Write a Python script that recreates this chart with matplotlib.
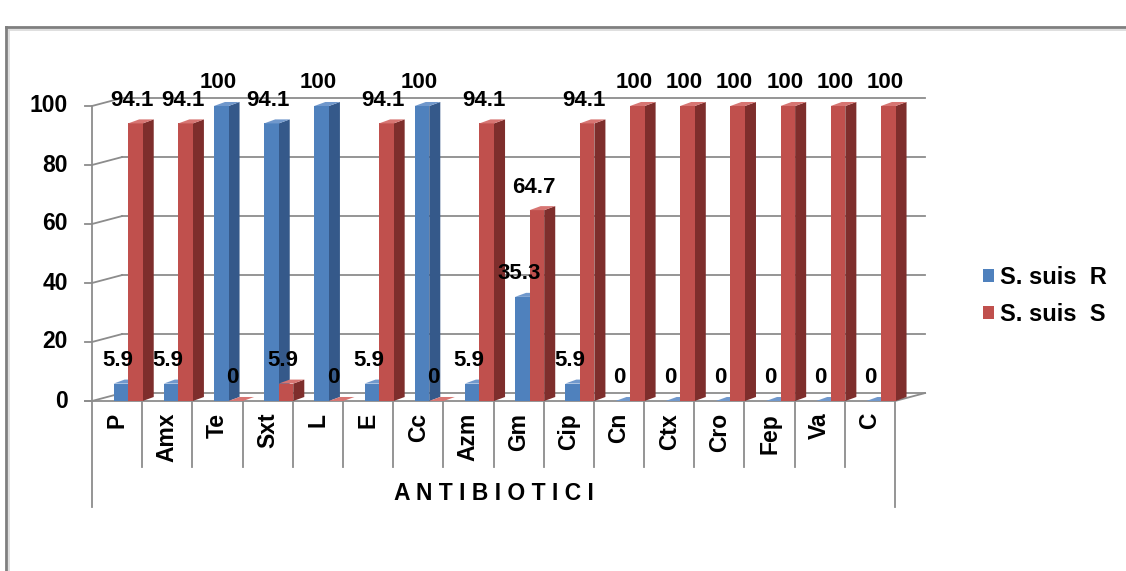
import matplotlib
matplotlib.use("Agg")
import matplotlib.pyplot as plt
from matplotlib.patches import Polygon, Rectangle, Patch
from matplotlib.lines import Line2D

plt.rcParams['font.family'] = ['Liberation Sans', 'DejaVu Sans']

# ---- data ----
categories = ["P", "Amx", "Te", "Sxt", "L", "E", "Cc", "Azm", "Gm", "Cip",
              "Cn", "Ctx", "Cro", "Fep", "Va", "C"]
resistant = [5.9, 5.9, 100, 94.1, 100, 5.9, 100, 5.9, 35.3, 5.9,
             0, 0, 0, 0, 0, 0]
sensitive = [94.1, 94.1, 0, 5.9, 0, 94.1, 0, 94.1, 64.7, 94.1,
             100, 100, 100, 100, 100, 100]
series_names = ["S. suis  R", "S. suis  S"]
y_ticks = [0, 20, 40, 60, 80, 100]
x_title = "A N T I B I O T I C I"

# ---- style ----
W, H = 1126, 571
fig = plt.figure(figsize=(W / 100, H / 100), dpi=100)
fig.patch.set_facecolor("white")
ax = fig.add_axes([92 / W, (H - 401) / H, (895 - 92) / W, 295 / H])
ax.set_xlim(0, len(categories))
ax.set_ylim(0, 100)
ax.axis("off")

grid_col = "#8C8C8C"
wall_dx, wall_dy = 0.6, 2.7      # depth of walls (data units)
bar_dx, bar_dy = 0.22, 1.36      # depth of bars
bar_w, bar_off = 0.29, 0.43
n = len(categories)

blue = dict(front="#4F81BD", side="#35598A", top="#7098CC")
red = dict(front="#C0504D", side="#7E2E2C", top="#D77572")

# back wall grid lines + side diagonals
for v in y_ticks:
    ax.add_line(Line2D([-0.14, 0, wall_dx], [v, v, v + wall_dy], color=grid_col,
                       lw=1.3, clip_on=False, zorder=1))
    ax.add_line(Line2D([wall_dx, n + wall_dx], [v + wall_dy, v + wall_dy],
                       color=grid_col, lw=1.3, clip_on=False, zorder=1))
# floor front & right diagonal
ax.add_line(Line2D([-0.14, n, n + wall_dx], [0, 0, wall_dy], color=grid_col,
                   lw=1.3, clip_on=False, zorder=1))
# vertical axis
ax.add_line(Line2D([0, 0], [0, 100], color=grid_col, lw=1.3, clip_on=False, zorder=1))

def draw_bar(x0, v, c, z):
    if v > 0:
        ax.add_patch(Polygon([(x0 + bar_w, 0), (x0 + bar_w + bar_dx, bar_dy),
                              (x0 + bar_w + bar_dx, v + bar_dy), (x0 + bar_w, v)],
                             closed=True, fc=c["side"], ec="none", zorder=z, clip_on=False))
        ax.add_patch(Rectangle((x0, 0), bar_w, v, fc=c["front"], ec="none",
                               zorder=z, clip_on=False))
    ax.add_patch(Polygon([(x0, v), (x0 + bar_dx, v + bar_dy),
                          (x0 + bar_w + bar_dx, v + bar_dy), (x0 + bar_w, v)],
                         closed=True, fc=c["top"], ec="none", zorder=z, clip_on=False))

for i in range(n):
    xb = i + bar_off
    xr = xb + bar_w
    draw_bar(xb, resistant[i], blue, 2 + i * 0.01)
    draw_bar(xr, sensitive[i], red, 2 + i * 0.01 + 0.005)
    for x0, v in ((xb, resistant[i]), (xr, sensitive[i])):
        ax.text(x0 + bar_w / 2 - 0.06, v + 7.8, f"{v:g}", ha="center", va="center",
                fontsize=16, fontweight="bold", color="black", zorder=10, clip_on=False)

# y tick labels
for v in y_ticks:
    ax.text(-0.48, v, str(v), ha="right", va="center", fontsize=16.5,
            fontweight="bold", zorder=10, clip_on=False)

# category labels and separators
for i, c in enumerate(categories):
    ax.text(i + 0.5, -4.0, c, rotation=90, ha="center", va="top", fontsize=16.5,
            fontweight="bold", zorder=10, clip_on=False)
for i in range(n + 1):
    bottom = -36.0 if i in (0, n) else -22.4
    ax.add_line(Line2D([i, i], [-0.3, bottom], color=grid_col, lw=1.3,
                       clip_on=False, zorder=1))

ax.text(n / 2, -31.2, x_title, ha="center", va="center", fontsize=16.5,
        fontweight="bold", zorder=10, clip_on=False)

# legend
handles = [Patch(fc=blue["front"], ec="none"), Patch(fc=red["front"], ec="none")]
leg = fig.legend(handles, series_names, loc="center left",
                 bbox_to_anchor=(983 / W, 1 - 296 / H), frameon=False,
                 prop=dict(family="Liberation Sans", weight="bold", size=17),
                 handlelength=0.47, handleheight=0.47, handletextpad=0.25,
                 labelspacing=0.62, borderpad=0, borderaxespad=0)

# outer chart frame (cropped at right/bottom)
fig.add_artist(Line2D([6 / W, 1.0], [1 - 27 / H, 1 - 27 / H], color="#7F7F7F",
                      lw=2, transform=fig.transFigure))
fig.add_artist(Line2D([6 / W, 6 / W], [1 - 27 / H, 0], color="#7F7F7F",
                      lw=2, transform=fig.transFigure))
fig.add_artist(Line2D([8.5 / W, 1.0], [1 - 29.5 / H, 1 - 29.5 / H], color="#D9D9D9",
                      lw=1.2, transform=fig.transFigure))
fig.add_artist(Line2D([8.5 / W, 8.5 / W], [1 - 29.5 / H, 0], color="#D9D9D9",
                      lw=1.2, transform=fig.transFigure))

fig.savefig("out.png", dpi=100, facecolor="white")
